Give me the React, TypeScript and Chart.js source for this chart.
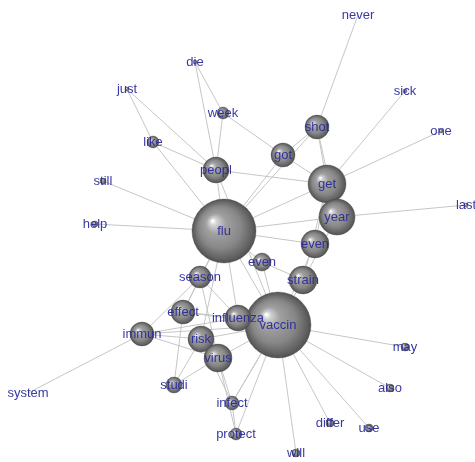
import React, { useEffect, useRef } from "react";
import { Chart, registerables } from "chart.js";

Chart.register(...registerables);

// Node layout (graph coordinates), sizes (sphere radius) and labels
const nodeIds = ["flu","vaccin","get","year","peopl","got","shot","even","even2","strain","season","effect","influenza","immun","risk","virus","studi","infect","protect","will","differ","use","also","may","system","never","sick","one","last","help","still","just","die","week","like"];
const nodeLabels = ["flu","vaccin","get","year","peopl","got","shot","even","even","strain","season","effect","influenza","immun","risk","virus","studi","infect","protect","will","differ","use","also","may","system","never","sick","one","last","help","still","just","die","week","like"];
const nodeX = [224,278,327,337,216,283,317,315,262,303,200,183,238,142,201,218,174,232,236,296,330,369,390,405,28,358,405,441,466,95,103,127,195,223,153];
const nodeY = [231,325,184,217,170,155,127,244,262,280,277,312,318,334,339,358,385,403,434,453,423,428,388,347,393,15,91,131,205,224,181,89,62,113,142];
const nodeSize = [32,33,19,18,13,12,12,14,9,14,11,12,13,12,13,14,8,7,6,4,4,4,4,4,0,0,2,2,2,3,3,2,2,6,6];

const edgeFrom = ["never","sick","one","last","shot","shot","shot","shot","week","got","got","peopl","peopl","peopl","peopl","peopl","peopl","peopl","die","just","like","still","help","flu","flu","flu","flu","flu","flu","flu","flu","flu","get","get","year","even2","even2","strain","even","vaccin","vaccin","vaccin","vaccin","vaccin","vaccin","vaccin","vaccin","vaccin","vaccin","vaccin","vaccin","season","season","season","season","immun","immun","immun","immun","effect","effect","studi","studi","risk","virus","virus","infect","infect"];
const edgeTo = ["shot","get","get","year","got","get","year","flu","got","get","flu","get","flu","week","die","just","like","vaccin","week","like","flu","flu","flu","get","year","even","even2","season","vaccin","influenza","risk","effect","even","strain","strain","strain","vaccin","vaccin","vaccin","may","also","use","differ","will","protect","infect","virus","influenza","risk","effect","immun","immun","effect","virus","influenza","system","risk","influenza","virus","studi","influenza","risk","virus","infect","infect","protect","protect","vaccin"];

const W = 475;
const H = 462;

export default function App() {
  const ref = useRef<HTMLCanvasElement | null>(null);

  useEffect(() => {
    const canvas = ref.current;
    if (!canvas) return;

    const idx = (id: string) => nodeIds.indexOf(id);

    const edgeDatasets = edgeFrom.map((f, i) => {
      const a = idx(f);
      const b = idx(edgeTo[i]);
      return {
        type: "line" as const,
        data: [
          { x: nodeX[a], y: nodeY[a] },
          { x: nodeX[b], y: nodeY[b] },
        ],
        borderColor: "rgba(195,195,195,0.95)",
        borderWidth: 1,
        pointRadius: 0,
        fill: false,
        order: 2,
      };
    });

    const sphereFill = (ctx: any) => {
      if (ctx.type !== "data") return "#888";
      const chart = ctx.chart;
      const raw = ctx.raw;
      const xs = chart.scales.x;
      const ys = chart.scales.y;
      if (!xs || !ys) return "#888";
      const cx = xs.getPixelForValue(raw.x);
      const cy = ys.getPixelForValue(raw.y);
      const r = Math.max(raw.r, 1);
      if (!isFinite(cx) || !isFinite(cy)) return "#888";
      const g = chart.ctx.createRadialGradient(
        cx - r * 0.36, cy - r * 0.32, r * 0.02,
        cx, cy, r
      );
      g.addColorStop(0, "#ffffff");
      g.addColorStop(0.1, "#d0d0d0");
      g.addColorStop(0.3, "#a0a0a0");
      g.addColorStop(0.65, "#878787");
      g.addColorStop(0.9, "#626262");
      g.addColorStop(1, "#505050");
      return g;
    };

    const nodeData = nodeIds.map((_, i) => ({ x: nodeX[i], y: nodeY[i], r: nodeSize[i] }));

    const labelPlugin = {
      id: "nodeLabels",
      afterDatasetsDraw(chart: any) {
        const c = chart.ctx;
        const xs = chart.scales.x;
        const ys = chart.scales.y;
        c.save();
        c.font = '13px "Liberation Sans", Arial, sans-serif';
        c.fillStyle = "rgba(40,40,155,0.92)";
        c.textAlign = "center";
        c.textBaseline = "middle";
        nodeLabels.forEach((t, i) => {
          c.fillText(t, xs.getPixelForValue(nodeX[i]), ys.getPixelForValue(nodeY[i]));
        });
        c.restore();
      },
    };

    const chart = new Chart(canvas, {
      type: "bubble",
      data: {
        datasets: [
          ...(edgeDatasets as any[]),
          {
            type: "bubble",
            data: nodeData,
            backgroundColor: sphereFill,
            borderColor: "rgba(70,70,70,0.6)",
            borderWidth: 0.6,
            hoverRadius: 0,
            order: 1,
          },
        ],
      },
      options: {
        responsive: false,
        animation: false,
        events: [],
        layout: { padding: 0, autoPadding: false },
        plugins: {
          legend: { display: false },
          tooltip: { enabled: false },
        },
        scales: {
          x: { type: "linear", display: false, min: 0, max: W },
          y: { type: "linear", display: false, min: 0, max: H, reverse: true },
        },
      },
      plugins: [labelPlugin],
    } as any);

    return () => chart.destroy();
  }, []);

  return (
    <div style={{ position: "fixed", left: 0, top: 0, width: W, height: H, background: "#ffffff" }}>
      <canvas ref={ref} width={W} height={H} style={{ display: "block" }} />
    </div>
  );
}
